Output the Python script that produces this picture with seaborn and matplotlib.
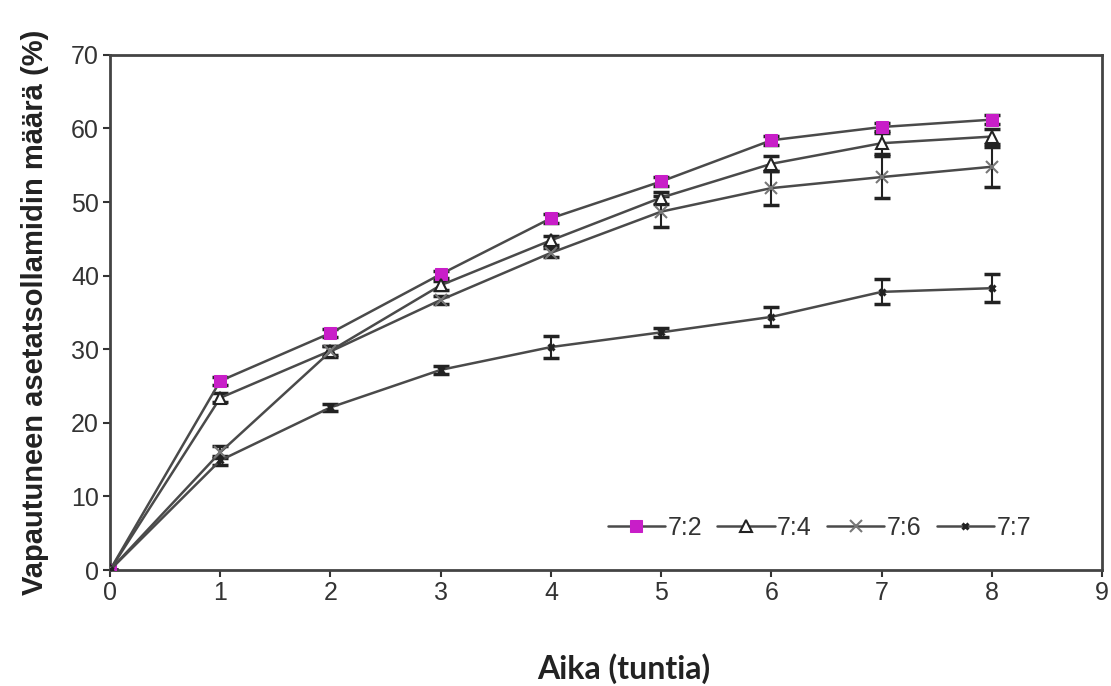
import matplotlib
matplotlib.use("Agg")
import matplotlib.pyplot as plt
import seaborn as sns
import numpy as np

# Release time points (hours)
hours = [0, 1, 2, 3, 4, 5, 6, 7, 8]

# Released amount (%) for each ratio, with standard deviations
r72 = [0, 25.7, 32.2, 40.2, 47.8, 52.8, 58.4, 60.2, 61.2]
r72_sd = [0, 0.5, 0.5, 0.5, 0.6, 0.6, 0.6, 0.6, 0.6]
r74 = [0, 23.4, 29.8, 38.7, 44.8, 50.6, 55.2, 58.0, 58.9]
r74_sd = [0, 0.6, 0.6, 0.6, 0.6, 0.8, 1.0, 1.4, 1.0]
r76 = [0, 16.0, 29.7, 36.7, 43.1, 48.7, 51.9, 53.4, 54.8]
r76_sd = [0, 0.8, 0.8, 0.6, 0.6, 2.1, 2.3, 2.8, 2.7]
r77 = [0, 14.9, 22.1, 27.2, 30.3, 32.3, 34.4, 37.8, 38.3]
r77_sd = [0, 0.6, 0.5, 0.5, 1.5, 0.6, 1.3, 1.7, 1.9]

series_labels = ["7:2", "7:4", "7:6", "7:7"]

sns.set_style("ticks")
plt.rcParams["font.family"] = ["Liberation Sans", "DejaVu Sans"]

fig = plt.figure(figsize=(11.11, 6.86), dpi=100)
ax = fig.add_axes([0.099, 0.169, 0.893, 0.751])

line_color = "#4a4a4a"
styles = [
    dict(marker="s", markersize=9, markerfacecolor="#c81ec8", markeredgecolor="#c81ec8"),
    dict(marker="^", markersize=8, markerfacecolor="white", markeredgecolor="#222222", markeredgewidth=1.5),
    dict(marker="x", markersize=8, markeredgecolor="#777777", markeredgewidth=1.5),
    dict(marker="x", markersize=5, markeredgecolor="#222222", markeredgewidth=2.2),
]
data = [(r72, r72_sd), (r74, r74_sd), (r76, r76_sd), (r77, r77_sd)]

for (vals, sd), lab, st in zip(data, series_labels, styles):
    ax.errorbar(hours, vals, yerr=sd, fmt="none", ecolor="#222222",
                elinewidth=1.5, capsize=6, capthick=2.5, zorder=2)
    sns.lineplot(x=hours, y=vals, ax=ax, color=line_color, linewidth=1.8,
                 label=lab, zorder=3, **st)

ax.set_xlim(0, 9)
ax.set_ylim(0, 70)
ax.set_xticks(range(0, 10))
ax.set_yticks(range(0, 71, 10))
ax.tick_params(axis="both", labelsize=18, length=5, width=1.5, color="#333333",
               labelcolor="#333333", pad=3)
for side in ["left", "bottom", "top", "right"]:
    ax.spines[side].set_visible(True)
    ax.spines[side].set_linewidth(2)
    ax.spines[side].set_color("#444444")

ax.set_xlabel("Aika (tuntia)", fontsize=23, fontweight="bold",
              family=["Lato", "DejaVu Sans"], color="#222222")
ax.xaxis.set_label_coords(0.518, -0.162)
ax.set_ylabel("Vapautuneen asetatsollamidin määrä (%)", fontsize=21,
              fontweight="bold", labelpad=16, color="#222222")

ax.legend(loc="center", bbox_to_anchor=(0.715, 0.082), ncol=4, frameon=False,
          fontsize=18, handlelength=2.3, columnspacing=0.6, handletextpad=0.1,
          labelcolor="#333333")

fig.savefig("out.png", dpi=100)
